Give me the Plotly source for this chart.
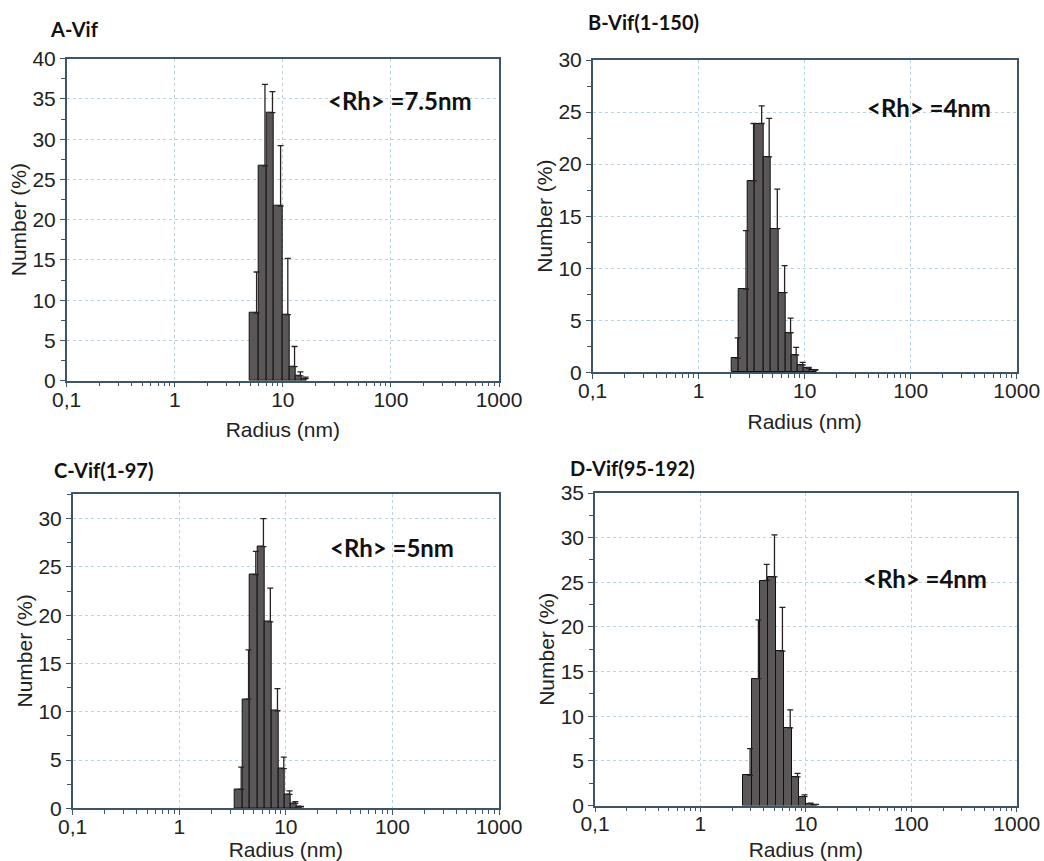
import plotly.graph_objects as go

# bin edges (nm), number (%) and upper error for each sample
a_edges = [4.96, 5.92, 7.08, 8.27, 9.87, 11.45, 13.2, 14.9, 16.6]
a_number = [8.4, 26.7, 33.3, 21.7, 8.2, 1.75, 0.6, 0.25]
a_error = [5.1, 10.1, 2.6, 7.5, 7.0, 2.5, 0.5, 0.2]

b_edges = [2.05, 2.41, 2.90, 3.40, 4.07, 4.77, 5.72, 6.66, 7.54, 8.51, 9.85, 11.2, 13.0]
b_number = [1.35, 8.0, 18.4, 23.9, 20.7, 13.8, 7.65, 3.8, 1.66, 0.7, 0.38, 0.2]
b_error = [1.95, 5.6, 5.5, 1.7, 3.7, 3.8, 2.6, 1.4, 0.74, 0.26, 0.1, 0.05]

c_edges = [3.33, 3.94, 4.61, 5.39, 6.37, 7.36, 8.61, 9.82, 11.1, 12.6, 14.2]
c_number = [1.97, 11.3, 24.2, 27.1, 19.3, 10.1, 4.1, 1.45, 0.5, 0.15]
c_error = [2.3, 5.1, 2.4, 2.9, 3.5, 2.3, 1.2, 0.35, 0.2, 0.05]

d_edges = [2.55, 3.07, 3.68, 4.41, 5.21, 6.21, 7.35, 8.61, 10.0, 11.4, 12.8]
d_number = [3.37, 14.2, 25.2, 25.6, 17.3, 8.7, 3.2, 1.0, 0.2, 0.1]
d_error = [3.0, 6.6, 1.8, 4.7, 4.9, 2.0, 0.4, 0.2, 0.05, 0.02]

panel_titles = ["A-Vif", "B-Vif(1-150)", "C-Vif(1-97)", "D-Vif(95-192)"]
rh_labels = ["<Rh> =7.5nm", "<Rh> =4nm", "<Rh> =5nm", "<Rh> =4nm"]
y_max = [40, 30, 32.6, 35]

x_tickvals = [0.1, 1, 10, 100, 1000]
x_ticktext = ["0,1", "1", "10", "100", "1000"]

W, H = 1044, 861
TICK_FONT = dict(family="Liberation Sans, Arial", size=21, color="#222")
BOLD_FONT = "Lato, Open Sans, sans-serif"
FRAME = "#3d5566"
GRID = "#b9d3e3"

panels = [
    (a_edges, a_number, a_error),
    (b_edges, b_number, b_error),
    (c_edges, c_number, c_error),
    (d_edges, d_number, d_error),
]

# plot areas in pixels: (left, right, top, bottom)
boxes = [
    (66.7, 499, 58.7, 380.7),
    (592.7, 1016.7, 60, 372.3),
    (72.7, 499, 493.5, 808.3),
    (595, 1016.7, 493, 805.5),
]
title_pos = [(48, 29), (586, 22), (52, 470), (568, 468)]
rh_pos = [(400, 100), (929, 108), (392, 547), (925, 578)]
xtitle_standoff = [13, 13, 8, 8]

fig = go.Figure()

for i, (edges, number, error) in enumerate(panels):
    n = "" if i == 0 else str(i + 1)
    xa, ya = "x" + n, "y" + n
    left = edges[:-1]
    widths = [hi - lo for lo, hi in zip(edges[:-1], edges[1:])]
    fig.add_trace(go.Bar(
        x=left, y=number, width=widths, offset=0,
        marker=dict(color="#5b5658", line=dict(color="#111", width=1)),
        xaxis=xa, yaxis=ya, showlegend=False,
    ))
    # error bars sit toward the right side of each bin
    err_x = [lo * (hi / lo) ** 0.8 for lo, hi in zip(edges[:-1], edges[1:])]
    fig.add_trace(go.Scatter(
        x=err_x, y=number, mode="markers",
        marker=dict(size=1, opacity=0),
        error_y=dict(type="data", array=error, arrayminus=[0] * len(error),
                     symmetric=False, color="#2a2222", thickness=1.3, width=3),
        xaxis=xa, yaxis=ya, showlegend=False, hoverinfo="skip",
    ))

    l, r, t, b = boxes[i]
    xkey = "xaxis" + n
    ykey = "yaxis" + n
    fig.layout[xkey] = dict(
        type="log", range=[-1, 3], domain=[l / W, r / W], anchor=ya,
        automargin=False,
        tickvals=x_tickvals, ticktext=x_ticktext, tickfont=TICK_FONT,
        ticks="outside", ticklen=5, tickcolor=FRAME, ticklabelstandoff=-6,
        minor=dict(ticks="outside", ticklen=4, tickcolor=FRAME, dtick="D1", showgrid=False),
        showline=True, linecolor=FRAME, linewidth=1.5, mirror=True,
        showgrid=True, gridcolor=GRID, griddash="dot", gridwidth=1,
        title=dict(text="Radius (nm)", font=TICK_FONT, standoff=xtitle_standoff[i]),
        zeroline=False,
    )
    fig.layout[ykey] = dict(
        range=[0, y_max[i]], domain=[1 - b / H, 1 - t / H], anchor=xa,
        automargin=False,
        dtick=5, tick0=0, tickfont=TICK_FONT,
        ticks="outside", ticklen=5, tickcolor=FRAME,
        minor=dict(ticks="outside", ticklen=4, tickcolor=FRAME, dtick=2.5, showgrid=False),
        showline=True, linecolor=FRAME, linewidth=1.5, mirror=True,
        showgrid=True, gridcolor=GRID, griddash="dot", gridwidth=1,
        title=dict(text="Number (%)", font=TICK_FONT, standoff=0),
        zeroline=False,
    )

    tx, ty = title_pos[i]
    fig.add_annotation(
        text="<b>%s</b>" % panel_titles[i], x=tx / W, y=1 - ty / H,
        xref="paper", yref="paper", xanchor="left", yanchor="middle",
        showarrow=False, font=dict(family=BOLD_FONT, size=20, color="#111"),
    )
    rx, ry = rh_pos[i]
    fig.add_annotation(
        text="<b>%s</b>" % rh_labels[i], x=rx / W, y=1 - ry / H,
        xref="paper", yref="paper", xanchor="center", yanchor="middle",
        showarrow=False, font=dict(family=BOLD_FONT, size=24, color="#111"),
    )

fig.update_layout(
    template="none",
    width=W, height=H,
    margin=dict(l=0, r=0, t=0, b=0),
    paper_bgcolor="white", plot_bgcolor="white",
    bargap=0, showlegend=False,
)

# the page's default body margin would push the figure 8px off
fig.write_html("out.html", config={"displayModeBar": False},
               post_script="document.body.style.margin='0';")
